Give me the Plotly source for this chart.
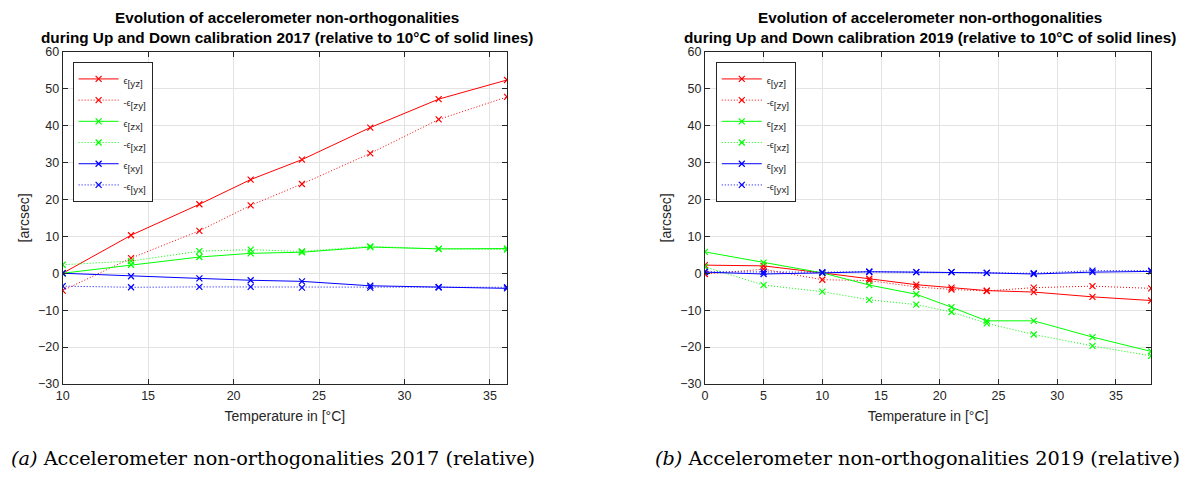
import plotly.graph_objects as go

# Temperatures of the calibration steps [°C]
temp_2017 = [10, 14, 18, 21, 24, 28, 32, 36]
temp_2019 = [0, 5, 10, 14, 18, 21, 24, 28, 33, 38]

# Non-orthogonalities relative to 10 °C of the solid lines [arcsec]
eps_yz_2017 = [0, 10.3, 18.7, 25.4, 30.8, 39.5, 47.2, 52.4]
neg_eps_zy_2017 = [-4.7, 4.1, 11.5, 18.4, 24.2, 32.5, 41.7, 47.8]
eps_zx_2017 = [0, 2.3, 4.4, 5.4, 5.7, 7.1, 6.6, 6.7]
neg_eps_xz_2017 = [2.3, 3.3, 6.0, 6.4, 5.9, 7.3, 6.6, 6.4]
eps_xy_2017 = [0, -0.8, -1.4, -1.9, -2.2, -3.4, -3.8, -4.1]
neg_eps_yx_2017 = [-3.5, -3.8, -3.7, -3.7, -3.9, -3.9, -3.8, -3.8]

eps_yz_2019 = [2.2, 2.0, 0.1, -1.5, -3.1, -3.9, -4.7, -5.1, -6.4, -7.4]
neg_eps_zy_2019 = [-0.2, 1.1, -1.75, -2.0, -3.7, -4.4, -4.8, -3.9, -3.5, -4.1]
eps_zx_2019 = [5.8, 2.9, 0.1, -3.2, -5.7, -9.2, -12.9, -12.9, -17.3, -21.2]
neg_eps_xz_2019 = [1.75, -3.2, -5.0, -7.2, -8.5, -10.5, -13.6, -16.6, -19.7, -22.4]
eps_xy_2019 = [0.3, -0.2, 0.1, 0.4, 0.3, 0.3, 0.1, -0.2, 0.3, 0.5]
neg_eps_yx_2019 = [0.4, 0.3, 0.3, 0.4, 0.3, 0.3, 0.1, 0.0, 0.7, 0.7]

series_subscripts = ["[yz]", "[zy]", "[zx]", "[xz]", "[xy]", "[yx]"]
series_signs = ["", "-", "", "-", "", "-"]
series_colors = ["#ff0000", "#ff0000", "#00ff00", "#00ff00", "#0000ff", "#0000ff"]
series_dash = ["solid", "1px,2px", "solid", "1px,2px", "solid", "1px,2px"]

values_2017 = [eps_yz_2017, neg_eps_zy_2017, eps_zx_2017,
               neg_eps_xz_2017, eps_xy_2017, neg_eps_yx_2017]
values_2019 = [eps_yz_2019, neg_eps_zy_2019, eps_zx_2019,
               neg_eps_xz_2019, eps_xy_2019, neg_eps_yx_2019]

FONT = "Liberation Sans, Arial, Helvetica, sans-serif"
AXIS_COLOR = "#262626"
GRID_COLOR = "#e3e3e3"

W, H = 1183, 477
fig = go.Figure()


def legend_label(sign, sub):
    # small epsilon followed by a larger subscript, as in the TeX legend
    return f"<span style=\"font-size:9px\">{sign}ϵ</span><sub>{sub}</sub>"


panels = [
    (temp_2017, values_2017, "x", "y", "legend"),
    (temp_2019, values_2019, "x2", "y2", "legend2"),
]
for temps, values, xa, ya, leg in panels:
    for i, (sign, sub, vals, col, dash) in enumerate(
            zip(series_signs, series_subscripts, values, series_colors, series_dash)):
        fig.add_trace(go.Scatter(
            x=temps, y=vals, name=legend_label(sign, sub), mode="lines+markers",
            xaxis=xa, yaxis=ya, legend=leg, legendgroup=f"{leg}-{i}",
            line=dict(color=col, width=1, dash=dash),
            marker=dict(symbol="x-thin", size=6,
                        line=dict(color=col, width=1.2), color=col),
        ))


def px_x(p):
    return p / W


def px_y(p):
    return 1 - p / H


plot_top, plot_bottom = 46.3, 388.3
left_dom = [px_x(56), px_x(503)]
right_dom = [px_x(702), px_x(1151)]
y_dom = [px_y(plot_bottom), px_y(plot_top)]

common_axis = dict(
    showline=True, linecolor=AXIS_COLOR, linewidth=1, mirror="ticks",
    ticks="inside", ticklen=5, tickcolor=AXIS_COLOR, tickwidth=1,
    showgrid=True, gridcolor=GRID_COLOR, gridwidth=1, zeroline=False,
    tickfont=dict(family=FONT, size=12.5, color=AXIS_COLOR),
)
xtitle = dict(text="Temperature in [°C]", font=dict(family=FONT, size=14, color=AXIS_COLOR),
              standoff=9)
ytitle = dict(text="[arcsec]", font=dict(family=FONT, size=14, color=AXIS_COLOR),
              standoff=5)

fig.update_layout(
    width=W, height=H,
    margin=dict(l=0, r=0, t=0, b=0),
    paper_bgcolor="white", plot_bgcolor="white",
    font=dict(family=FONT, size=12, color=AXIS_COLOR),
    xaxis=dict(domain=left_dom, range=[10, 36], dtick=5, tick0=10,
               anchor="y", title=xtitle, **common_axis),
    yaxis=dict(domain=y_dom, range=[-30, 60], dtick=10,
               anchor="x", title=ytitle, **common_axis),
    xaxis2=dict(domain=right_dom, range=[0, 38], dtick=5, tick0=0,
                anchor="y2", title=xtitle, **common_axis),
    yaxis2=dict(domain=y_dom, range=[-30, 60], dtick=10,
                anchor="x2", title=ytitle, **common_axis),
)

legend_style = dict(
    xanchor="left", yanchor="top",
    bgcolor="white", bordercolor=AXIS_COLOR, borderwidth=1,
    font=dict(family=FONT, size=14, color=AXIS_COLOR),
    itemwidth=40, tracegroupgap=0,
)
fig.update_layout(
    legend=dict(x=px_x(66), y=px_y(57), **legend_style),
    legend2=dict(x=px_x(713), y=px_y(57), **legend_style),
)

titles = [
    ("Evolution of accelerometer non-orthogonalities<br>"
     "during Up and Down calibration 2017 (relative to 10°C of solid lines)", 282),
    ("Evolution of accelerometer non-orthogonalities<br>"
     "during Up and Down calibration 2019 (relative to 10°C of solid lines)", 928),
]
for text, cx in titles:
    fig.add_annotation(
        text=f"<b>{text}</b>", x=px_x(cx), y=px_y(21.5), xref="paper", yref="paper",
        xanchor="center", yanchor="middle", showarrow=False,
        font=dict(family=FONT, size=15.3, color="#000000"),
    )

captions = [
    ("<i>(a)</i> Accelerometer non-orthogonalities 2017 (relative)", 268),
    ("<i>(b)</i> Accelerometer non-orthogonalities 2019 (relative)", 916),
]
for text, cx in captions:
    fig.add_annotation(
        text=text, x=px_x(cx), y=px_y(465), xref="paper", yref="paper",
        xanchor="center", yanchor="middle", showarrow=False,
        font=dict(family="DejaVu Serif, Liberation Serif, serif", size=19.3, color="#000000"),
    )

fig.write_html("out.html")
